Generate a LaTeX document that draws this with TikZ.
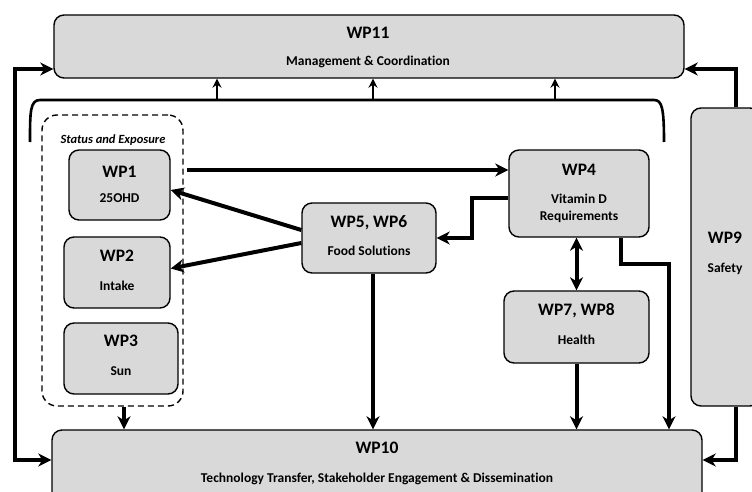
\documentclass[tikz,border=0pt]{standalone}
\usepackage{fontspec}
\setmainfont{Carlito}[Ligatures={NoCommon}]
\usetikzlibrary{arrows.meta}
\definecolor{boxgray}{RGB}{217,217,217}
\begin{document}
\begin{tikzpicture}[x=1pt,y=-1pt,
  box/.style={draw=black, line width=1.4pt, fill=boxgray, rounded corners=10pt, inner sep=0pt, rectangle},
  hd/.style={font=\fontsize{17.5}{20}\selectfont\bfseries, inner sep=0pt, anchor=base},
  sb/.style={font=\fontsize{13.5}{15}\selectfont\bfseries, inner sep=0pt, anchor=base},
  big/.style={line width=4pt, -{Stealth[length=13pt,width=13pt,inset=4pt]}},
  bigboth/.style={line width=4pt, {Stealth[length=13pt,width=13pt,inset=4pt]}-{Stealth[length=13pt,width=13pt,inset=4pt]}},
  thin/.style={line width=2.2pt, -{Stealth[length=9pt,width=9pt,inset=3pt]}},
  grp/.style={draw=black, line width=1.4pt, dash pattern=on 6pt off 4pt, rounded corners=15pt, inner sep=0pt, rectangle}
]
\useasboundingbox (0,0) rectangle (752,492);
\clip (0,0) rectangle (752,492);
\fill[white] (0,0) rectangle (752,492);

% boxes
\node[box, minimum width=630pt, minimum height=63pt] (wp11) at (369,46.5) {};
\node[grp, minimum width=141pt, minimum height=291pt] (dash) at (112.5,260.5) {};
\node[box, minimum width=101pt, minimum height=70pt] (wp1) at (119.5,185) {};
\node[box, minimum width=106pt, minimum height=71pt] (wp2) at (117,272.5) {};
\node[box, minimum width=114pt, minimum height=71pt] (wp3) at (121,358.5) {};
\node[box, minimum width=134pt, minimum height=70pt] (wp56) at (369,238) {};
\node[box, minimum width=140pt, minimum height=87pt] (wp4) at (579,193.5) {};
\node[box, minimum width=145pt, minimum height=72pt] (wp78) at (576.5,327) {};
\node[box, minimum width=69pt, minimum height=298pt] (wp9) at (725.5,257) {};
\node[box, minimum width=650pt, minimum height=75pt] (wp10) at (377,467.5) {};

% texts
\node[hd] (t11a) at (368,38.5) {WP11};
\node[sb] (t11b) at (368,66) {Management \& Coordination};
\node[font=\fontsize{12.5}{14}\selectfont\bfseries\itshape, inner sep=0pt, anchor=base] (tst) at (113,143) {Status and Exposure};
\node[hd] (t1a) at (119.5,177.5) {WP1};
\node[sb] (t1b) at (119.5,202) {25OHD};
\node[hd] (t2a) at (117,261.5) {WP2};
\node[sb] (t2b) at (117,290) {Intake};
\node[hd] (t3a) at (121,346.5) {WP3};
\node[sb] (t3b) at (121,375) {Sun};
\node[hd] (t56a) at (369,227.5) {WP5, WP6};
\node[sb] (t56b) at (369,255) {Food Solutions};
\node[hd] (t4a) at (579,175.5) {WP4};
\node[sb] (t4b) at (579,203) {Vitamin D};
\node[sb] (t4c) at (579,220) {Requirements};
\node[hd] (t78a) at (576.5,315.5) {WP7, WP8};
\node[sb] (t78b) at (576.5,344) {Health};
\node[hd] (t9a) at (725,243.5) {WP9};
\node[sb] (t9b) at (725,272) {Safety};
\node[hd] (t10a) at (377,453.5) {WP10};
\node[sb] (t10b) at (377,482) {Technology Transfer, Stakeholder Engagement \& Dissemination};

% bracket
\coordinate (bl) at (30,142);
\coordinate (br) at (664,142);
\coordinate (u1) at (217,100);
\coordinate (u2) at (373,100);
\coordinate (u3) at (555,100);
\draw[line width=2.6pt] (bl) .. controls (30,112) and (30,100) .. (40,100) -- (654,100) .. controls (662,100) and (664,108) .. (br);
\draw[thin] (u1) -- (u1 |- wp11.south);
\draw[thin] (u2) -- (u2 |- wp11.south);
\draw[thin] (u3) -- (u3 |- wp11.south);

% connectors
\draw[bigboth] ([yshift=-22.5pt]wp11.west) -- ++(-38,0) |- ([yshift=7.5pt]wp10.west);
\coordinate (a1) at (187,170);
\draw[big] (a1) -- (wp4.west |- a1);
\draw[big] ([yshift=8pt]wp56.west) -- ([yshift=-5pt]wp1.east);
\draw[big] ([yshift=-5pt]wp56.west) -- ([yshift=4pt]wp2.east);
\draw[big] ([yshift=-4.5pt]wp4.west) -- ++(-36,0) |- (wp56.east);
\draw[bigboth] (wp78.north |- wp4.south) -- (wp78.north);
\draw[big] ([xshift=42pt]wp4.south) -- ++(0,26) -| ([xshift=292pt]wp10.north);
\draw[big] (wp78.south) -- (wp78.south |- wp10.north);
\draw[big] ([xshift=4pt]wp56.south) -- ([xshift=4pt]wp56.south |- wp10.north);
\draw[big] ([xshift=11.5pt]dash.south) -- ([xshift=11.5pt]dash.south |- wp10.north);
\draw[big] ([xshift=10.5pt]wp9.north) |- ([yshift=-22.5pt]wp11.east);
\draw[big] ([xshift=10.5pt]wp9.south) |- ([yshift=7.5pt]wp10.east);
\end{tikzpicture}
\end{document}
